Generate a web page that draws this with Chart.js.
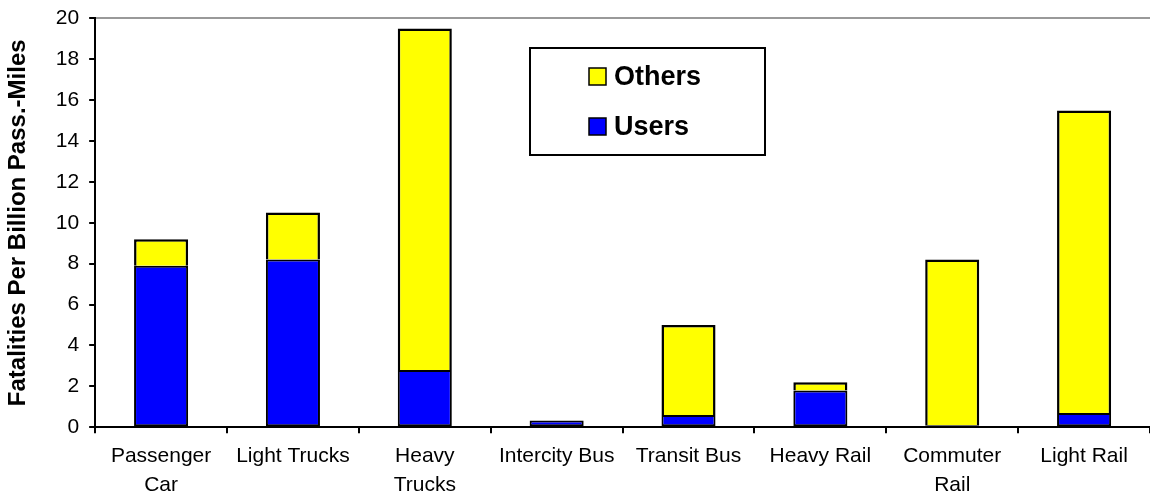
<!DOCTYPE html>
<html>
<head>
<meta charset="utf-8">
<script src="https://cdn.jsdelivr.net/npm/chart.js@4"></script>
<style>
html,body{margin:0;padding:0;background:#fff;}
#wrap{width:1150px;height:497px;position:relative;}
</style>
</head>
<body>
<div id="wrap"><canvas id="c" width="1150" height="497"></canvas></div>
<script>
const categories = [["Passenger","Car"], "Light Trucks", ["Heavy","Trucks"], "Intercity Bus", "Transit Bus", "Heavy Rail", ["Commuter","Rail"], "Light Rail"];
const users  = [7.9, 8.2, 2.8, 0.33, 0.6, 1.8, 0.1, 0.7];
const others = [1.3, 2.3, 16.7, 0, 4.4, 0.4, 8.1, 14.8];
const yTitle = "Fatalities Per Billion Pass.-Miles";
const seriesNames = ["Users", "Others"];

const FONT = "'Liberation Sans', Arial, sans-serif";

const boxLegend = {
  id: 'boxLegend',
  afterDraw(chart) {
    const ctx = chart.ctx;
    const x0 = 530, y0 = 48, w = 235, h = 107;
    ctx.save();
    ctx.fillStyle = '#fff';
    ctx.fillRect(x0, y0, w, h);
    ctx.strokeStyle = '#000';
    ctx.lineWidth = 2;
    ctx.strokeRect(x0, y0, w, h);
    const items = [chart.data.datasets[1], chart.data.datasets[0]];
    const ys = [77, 127];
    ctx.font = "bold 27px " + FONT;
    ctx.textBaseline = 'middle';
    ctx.textAlign = 'left';
    items.forEach((ds, i) => {
      const cy = ys[i];
      ctx.fillStyle = ds.backgroundColor;
      ctx.fillRect(589, cy - 9, 17, 17);
      ctx.lineWidth = 1.5;
      ctx.strokeStyle = '#000';
      ctx.strokeRect(589, cy - 9, 17, 17);
      ctx.fillStyle = '#000';
      ctx.fillText(ds.label, 614, cy + 1);
    });
    ctx.restore();
  }
};

new Chart(document.getElementById('c'), {
  type: 'bar',
  data: {
    labels: categories,
    datasets: [
      { label: seriesNames[0], data: users, backgroundColor: '#0000FF', borderColor: '#000', borderWidth: 2, borderSkipped: false },
      { label: seriesNames[1], data: others, backgroundColor: '#FFFF00', borderColor: '#000', borderWidth: 2.5, borderSkipped: 'bottom' }
    ]
  },
  options: {
    responsive: false,
    animation: false,
    layout: { padding: { left: 2, right: 0, top: 0, bottom: -11 } },
    datasets: { bar: { categoryPercentage: 1.0, barPercentage: 0.41 } },
    plugins: { legend: { display: false }, tooltip: { enabled: false } },
    scales: {
      x: {
        stacked: true,
        grid: { display: true, drawOnChartArea: false, color: '#000', lineWidth: 2, tickLength: 6, offset: true },
        border: { display: true, color: '#000', width: 2 },
        ticks: { color: '#000', font: { family: FONT, size: 21, lineHeight: 1.4 }, maxRotation: 0, autoSkip: false, padding: 8 }
      },
      y: {
        stacked: true,
        min: 0, max: 20,
        ticks: { stepSize: 2, color: '#000', font: { family: FONT, size: 21, lineHeight: 0.8 }, padding: 10 },
        grid: {
          drawOnChartArea: true,
          color: (c) => c.tick && c.tick.value === 20 ? '#999' : 'rgba(0,0,0,0)',
          lineWidth: 2,
          tickColor: '#000',
          tickLength: 6
        },
        border: { display: true, color: '#000', width: 2 },
        title: { display: true, text: yTitle, color: '#000', font: { family: FONT, size: 24, weight: 'bold' }, padding: { top: 2, bottom: 13 } }
      }
    }
  },
  plugins: [boxLegend]
});
</script>
</body>
</html>
